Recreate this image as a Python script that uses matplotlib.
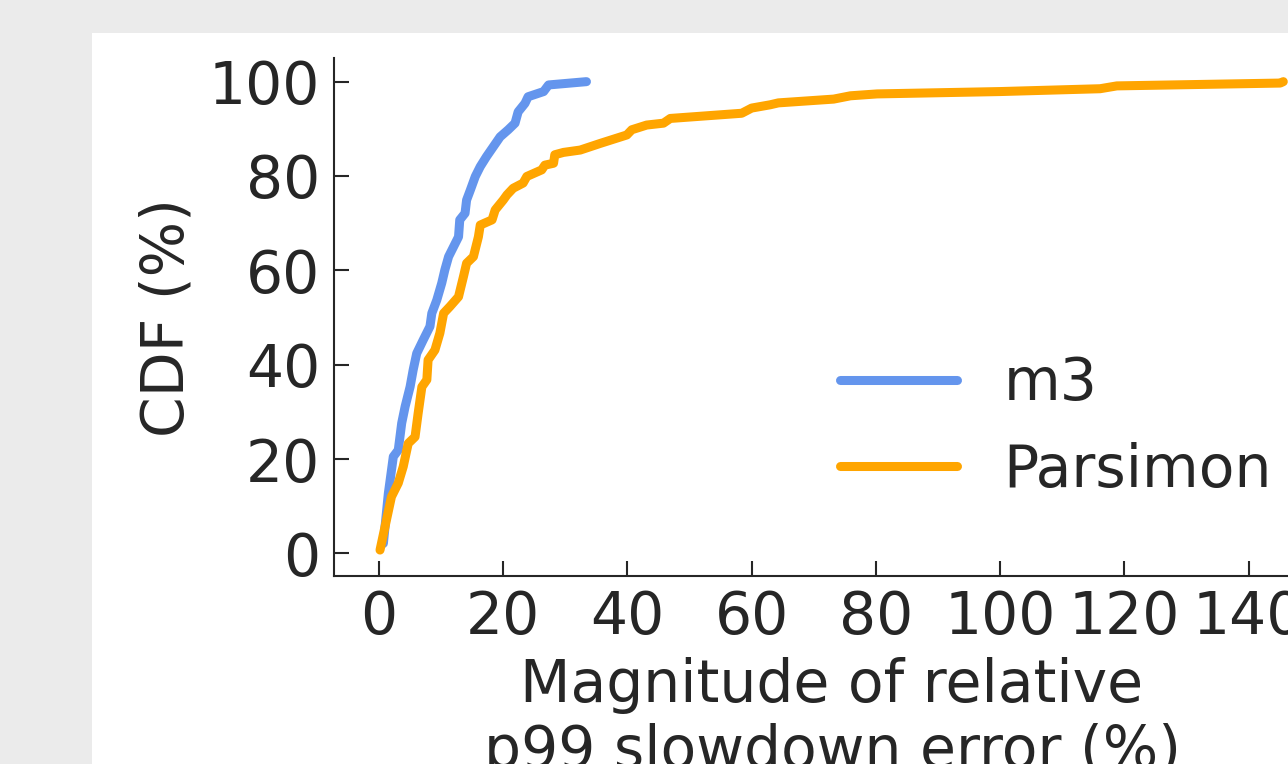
import matplotlib
matplotlib.use("Agg")
import matplotlib.pyplot as plt
from matplotlib.patches import Rectangle

# CDF points (x = |relative error| %, y = CDF %)
m3_x = [0.7, 1.5, 2.3, 3.1, 3.65, 4.2, 5.0, 5.5, 6.07, 7.1, 8.2, 8.5, 9.3, 10.1,
        10.6, 11.2, 12.0, 12.8, 13.0, 13.85, 14.1, 14.7, 15.5, 16.3, 17.3, 18.4,
        19.5, 20.8, 21.9, 22.4, 23.5, 24.0, 26.5, 27.3, 33.4]
m3_y = [2.1, 12.7, 20.5, 21.9, 27.6, 31.1, 35.3, 38.9, 42.4, 45.2, 48.1, 50.9,
        53.7, 57.3, 60.1, 62.9, 65.0, 67.1, 70.7, 72.1, 74.9, 77.0, 79.9, 82.0,
        84.1, 86.2, 88.3, 89.8, 91.2, 93.6, 95.4, 96.8, 97.9, 99.3, 100.0]

parsimon_x = [0.16, 1.2, 2.0, 3.1, 3.9, 4.7, 5.8, 6.3, 6.9, 7.7, 7.9, 9.0, 9.8,
              10.4, 11.4, 12.8, 13.6, 14.1, 15.2, 16.0, 16.3, 18.2, 18.7, 20.0,
              20.6, 21.6, 23.2, 23.8, 26.2, 26.7, 28.1, 28.3, 29.7, 32.4, 35.6,
              39.9, 40.7, 43.1, 45.8, 46.9, 58.4, 60.0, 63.0, 64.3, 73.2, 75.9,
              80.2, 100.0, 116.1, 118.8, 145.1, 145.6]
parsimon_y = [0.7, 7.1, 12.0, 14.9, 18.4, 23.3, 24.7, 29.7, 35.3, 36.8, 41.0,
              43.1, 46.7, 50.9, 52.3, 54.4, 58.7, 61.5, 62.9, 67.1, 69.6, 70.7,
              72.8, 74.9, 76.0, 77.4, 78.5, 79.9, 81.3, 82.3, 82.7, 84.5, 85.0,
              85.5, 86.9, 88.7, 89.8, 90.8, 91.2, 92.2, 93.3, 94.4, 95.1, 95.5,
              96.3, 97.0, 97.4, 97.9, 98.5, 99.1, 99.7, 100.0]

text_color = '#262626'
fs = 42

plt.rcParams['font.family'] = ['DejaVu Sans']
plt.rcParams['text.color'] = text_color
plt.rcParams['axes.labelcolor'] = text_color
plt.rcParams['xtick.color'] = text_color
plt.rcParams['ytick.color'] = text_color

W, H = 1288, 764
fig = plt.figure(figsize=(W / 100, H / 100), dpi=100, facecolor='#ebebeb')
# white page area (the picture is a crop of a larger page)
fig.patches.append(Rectangle((92 / W, 0), 1, 1 - 33 / H, transform=fig.transFigure,
                             facecolor='white', edgecolor='none', zorder=-1))

left, right = 333.5, 1330.5
top, bottom = 58.3, 576
ax = fig.add_axes([left / W, 1 - bottom / H, (right - left) / W, (bottom - top) / H])
ax.set_facecolor('none')

ax.plot(m3_x, m3_y, color='cornflowerblue', lw=6.5, solid_capstyle='round',
        solid_joinstyle='round', label='m3')
ax.plot(parsimon_x, parsimon_y, color='orange', lw=6.5, solid_capstyle='round',
        solid_joinstyle='round', label='Parsimon')

ax.set_xlim(-7.33, 153.2)
ax.set_ylim(-4.8, 104.95)
ax.set_xticks(range(0, 160, 20))
ax.set_yticks(range(0, 120, 20))

for side in ['top', 'right']:
    ax.spines[side].set_visible(False)
for side in ['left', 'bottom']:
    ax.spines[side].set_linewidth(1.5)
    ax.spines[side].set_color(text_color)

ax.tick_params(direction='in', length=10.5, width=1.5, labelsize=fs, pad=9.5)

ax.set_xlabel('Magnitude of relative\np99 slowdown error (%)', fontsize=fs, labelpad=8)
ax.set_ylabel('CDF (%)', fontsize=fs, labelpad=10)

leg = ax.legend(loc='center left', bbox_to_anchor=(840 / W, 1 - 427 / H),
                bbox_transform=fig.transFigure, frameon=False, fontsize=fs,
                borderpad=0, borderaxespad=0, labelspacing=0.5)

fig.savefig('out.png', dpi=100, facecolor=fig.get_facecolor())
